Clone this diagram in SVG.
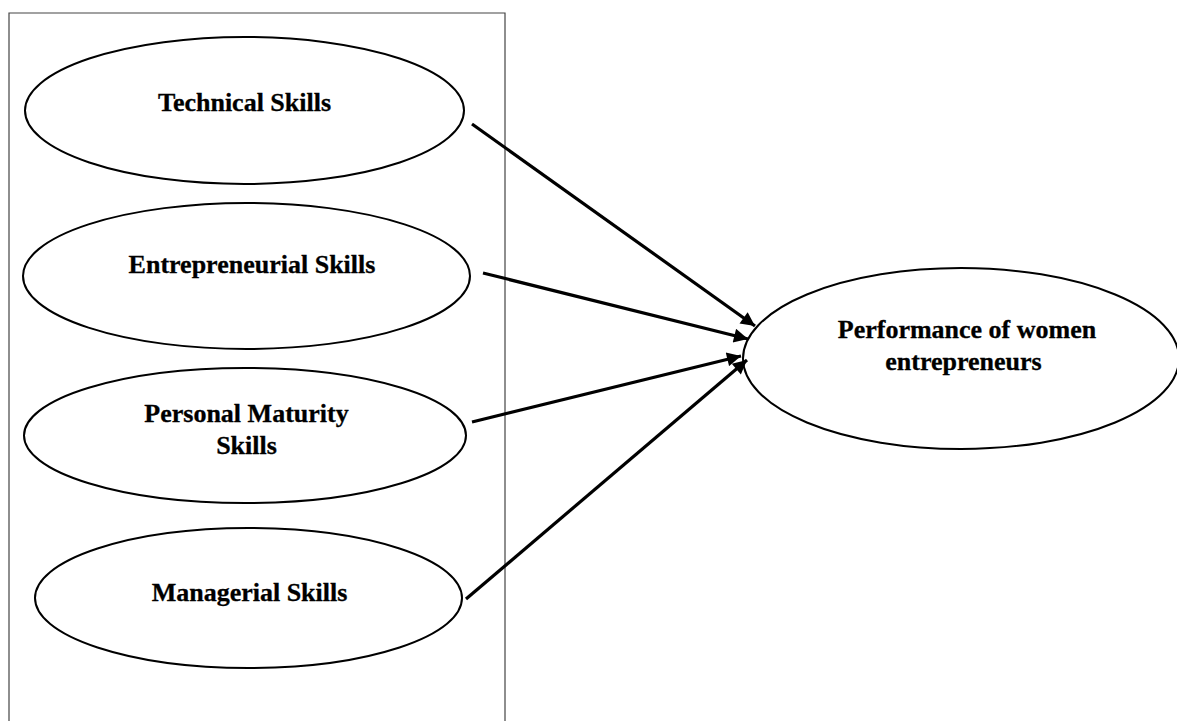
<svg xmlns="http://www.w3.org/2000/svg" width="1177" height="721" viewBox="0 0 1177 721">
  <style>
    .node { fill: #ffffff; stroke: #000000; stroke-width: 2; }
    .label { font-family: "Liberation Serif", "Times New Roman", serif; font-weight: bold; font-size: 26px; fill: #000000; stroke: #000000; stroke-width: 0.3; text-anchor: middle; }
    .edge { stroke: #000000; stroke-width: 3.2; fill: none; marker-end: url(#arrow); }
    .frame { fill: none; stroke: #444444; stroke-width: 1.2; }
  </style>
  <defs>
    <marker id="arrow" viewBox="0 0 10 10" refX="10" refY="5" markerUnits="userSpaceOnUse" markerWidth="17" markerHeight="14" orient="auto">
      <path d="M0,0 L10,5 L0,10 z" fill="#000000"/>
    </marker>
  </defs>

  <rect width="1177" height="721" fill="#ffffff"/>

  <!-- frame around the skill set (open at the bottom) -->
  <path class="frame" d="M9,730 L9,13 L505,13 L505,730"/>

  <g id="technical-skills">
    <ellipse class="node" cx="244.5" cy="110.5" rx="219.5" ry="73.5"/>
    <text class="label" x="244.5" y="111">Technical Skills</text>
  </g>

  <g id="entrepreneurial-skills">
    <ellipse class="node" cx="246.5" cy="276" rx="223.5" ry="73"/>
    <text class="label" x="252" y="273">Entrepreneurial Skills</text>
  </g>

  <g id="personal-maturity-skills">
    <ellipse class="node" cx="245" cy="435.5" rx="221" ry="67.5"/>
    <text class="label" x="246.5" y="422">Personal Maturity</text>
    <text class="label" x="246.5" y="454">Skills</text>
  </g>

  <g id="managerial-skills">
    <ellipse class="node" cx="248.5" cy="598" rx="213.5" ry="70"/>
    <text class="label" x="249.5" y="601">Managerial Skills</text>
  </g>

  <g id="performance">
    <ellipse class="node" cx="961" cy="358.5" rx="218" ry="90.5"/>
    <text class="label" x="967" y="338">Performance of women</text>
    <text class="label" x="963.5" y="370">entrepreneurs</text>
  </g>

  <g id="connectors">
    <line class="edge" x1="472" y1="124" x2="755" y2="326"/>
    <line class="edge" x1="483" y1="273" x2="748" y2="339"/>
    <line class="edge" x1="472" y1="422" x2="741" y2="356"/>
    <line class="edge" x1="466" y1="599" x2="747" y2="360"/>
  </g>
</svg>
